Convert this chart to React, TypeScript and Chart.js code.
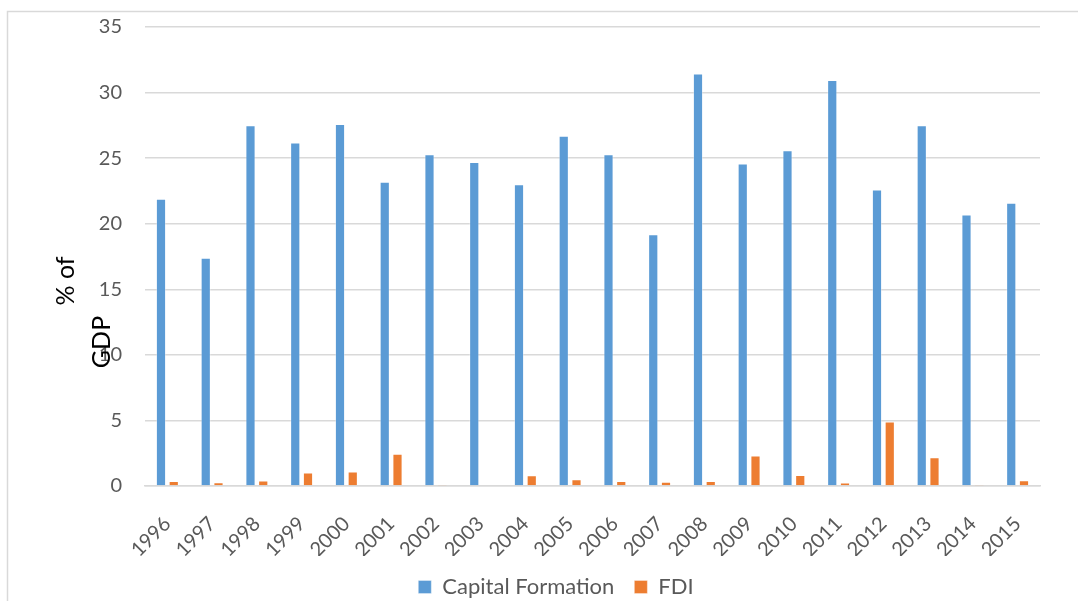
import React, { useEffect, useRef } from "react";
import { Chart, registerables } from "chart.js";

Chart.register(...registerables);

const years = [
  "1996", "1997", "1998", "1999", "2000", "2001", "2002", "2003", "2004", "2005",
  "2006", "2007", "2008", "2009", "2010", "2011", "2012", "2013", "2014", "2015",
];
const capitalFormation = [
  21.9, 17.4, 27.5, 26.2, 27.6, 23.2, 25.3, 24.7, 23.0, 26.7,
  25.3, 19.2, 31.45, 24.6, 25.6, 30.95, 22.6, 27.5, 20.7, 21.6,
];
const fdi = [
  0.38, 0.28, 0.41, 1.02, 1.1, 2.45, 0.08, 0.05, 0.82, 0.51,
  0.38, 0.33, 0.38, 2.32, 0.84, 0.26, 4.92, 2.19, 0.08, 0.43,
];
const seriesNames = ["Capital Formation", "FDI"];
const yMin = 0;
const yMax = 35;
const yStep = 5;
const axisTitleLines = ["% of", "GDP"];

const FONT = "Lato, 'Open Sans', sans-serif";
const TEXT = "#595959";
const GRID = "#D9D9D9";

const framePlugin = {
  id: "frame",
  beforeDraw(chart: any) {
    const ctx = chart.ctx;
    ctx.save();
    ctx.fillStyle = "#ffffff";
    ctx.fillRect(0, 0, chart.width, chart.height);
    ctx.strokeStyle = GRID;
    ctx.lineWidth = 1.5;
    ctx.strokeRect(7.5, 11.5, chart.width + 200, chart.height + 200);
    ctx.restore();
  },
};

const axisTitlePlugin = {
  id: "axisTitle",
  afterDraw(chart: any) {
    const ctx = chart.ctx;
    ctx.save();
    ctx.fillStyle = "#000000";
    ctx.font = `25px ${FONT}`;
    ctx.textAlign = "center";
    ctx.textBaseline = "alphabetic";
    const spots = [
      { x: 74, y: 281 },
      { x: 110, y: 342 },
    ];
    axisTitleLines.forEach((line, i) => {
      ctx.save();
      ctx.translate(spots[i].x, spots[i].y);
      ctx.rotate(-Math.PI / 2);
      ctx.fillText(line, 0, 0);
      ctx.restore();
    });
    ctx.restore();
  },
};

export default function App() {
  const ref = useRef<HTMLCanvasElement | null>(null);

  useEffect(() => {
    if (!ref.current) return;
    const chart = new Chart(ref.current, {
      type: "bar",
      data: {
        labels: years,
        datasets: [
          {
            label: seriesNames[0],
            data: capitalFormation,
            backgroundColor: "#5B9BD5",
            borderColor: "rgba(255,255,255,0.35)",
            borderWidth: 1,
            categoryPercentage: 0.57,
            barPercentage: 0.8,
          },
          {
            label: seriesNames[1],
            data: fdi,
            backgroundColor: "#ED7D31",
            borderColor: "rgba(255,255,255,0.35)",
            borderWidth: 1,
            categoryPercentage: 0.57,
            barPercentage: 0.8,
          },
        ],
      },
      options: {
        responsive: false,
        animation: false,
        layout: { padding: { left: 72, right: 38, top: 27, bottom: 12 } },
        plugins: {
          tooltip: { enabled: false },
          legend: {
            position: "bottom",
            labels: {
              boxWidth: 13,
              boxHeight: 13,
              padding: 20,
              color: TEXT,
              font: { family: FONT, size: 22 },
            },
          },
        },
        scales: {
          x: {
            afterFit(scale: any) {
              scale.height = 70;
            },
            grid: { display: false, drawTicks: false },
            border: { display: true, color: GRID, width: 1.5 },
            ticks: {
              color: TEXT,
              font: { family: FONT, size: 20 },
              minRotation: 45,
              maxRotation: 45,
              autoSkip: false,
              padding: 26,
            },
          },
          y: {
            min: yMin,
            max: yMax,
            afterFit(scale: any) {
              scale.width = 73;
            },
            grid: {
              color: GRID,
              lineWidth: 1.5,
              drawTicks: true,
              tickLength: 20,
              tickColor: "rgba(0,0,0,0)",
            },
            border: { display: false },
            ticks: {
              stepSize: yStep,
              color: TEXT,
              font: { family: FONT, size: 20 },
              padding: 3,
            },
          },
        },
      },
      plugins: [framePlugin, axisTitlePlugin],
    });
    return () => chart.destroy();
  }, []);

  return (
    <div
      style={{
        position: "absolute",
        left: 0,
        top: 0,
        width: 1078,
        height: 601,
        overflow: "hidden",
        background: "#fff",
      }}
    >
      <canvas ref={ref} width={1078} height={620} style={{ display: "block" }} />
    </div>
  );
}
